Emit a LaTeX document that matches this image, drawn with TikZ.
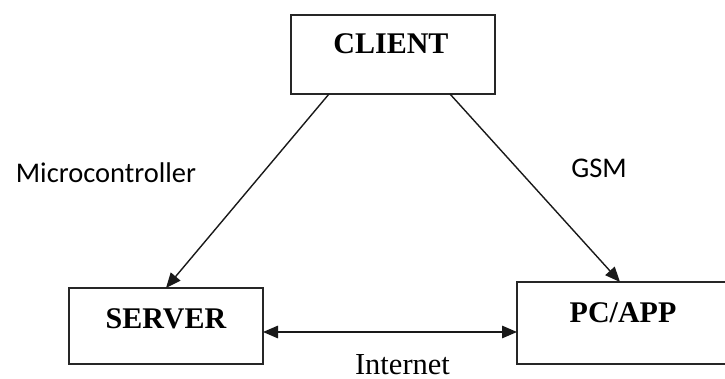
\documentclass[tikz,border=0pt]{standalone}
\usepackage{fontspec}
\setmainfont{Liberation Serif}
\newfontfamily\labelsans{Carlito}
\usetikzlibrary{arrows.meta}

\tikzset{
  box/.style={draw=black!85, line width=1.2pt, inner sep=0pt, outer sep=0pt, rectangle},
  boxtext/.style={font=\fontsize{30}{30}\selectfont\bfseries, inner sep=0pt, anchor=base},
  sidetext/.style={font=\labelsans\fontsize{28.5}{28.5}\selectfont, inner sep=0pt, anchor=base},
  nettext/.style={font=\fontsize{30.5}{30.5}\selectfont, inner sep=0pt, anchor=base},
  link/.style={draw=black!90, line width=1.4pt, -{Triangle[length=15pt,width=12.5pt]}},
  duplex/.style={draw=black!90, line width=1.4pt, {Triangle[length=15pt,width=12.5pt]}-{Triangle[length=15pt,width=12.5pt]}}
}

\begin{document}
\begin{tikzpicture}[x=1pt, y=-1pt]
  \useasboundingbox (0,0) rectangle (725,379);

  % the three blocks
  \node[box, minimum width=204pt, minimum height=79pt] (client) at (393,54.5) {};
  \node[box, minimum width=194pt, minimum height=76pt] (server) at (166,326) {};
  \node[box, minimum width=212pt, minimum height=82pt] (pcapp) at (623,323) {};

  % block titles
  \node[boxtext] (clientname) at (391,54) {CLIENT};
  \node[boxtext] (servername) at (166,328) {SERVER};
  \node[boxtext] (pcappname) at (623,322) {PC/APP};

  % points where the connectors meet the blocks
  \coordinate (cl) at ([xshift=38pt]client.south west);
  \coordinate (cr) at ([xshift=-45pt]client.south east);
  \coordinate (st) at (server.north);
  \coordinate (pt) at ([xshift=103pt]pcapp.north west);
  \coordinate (sr) at ([yshift=-6pt]server.east);
  \coordinate (pl) at (pcapp.west |- sr);

  % connectors
  \draw[link] (cl) -- (st);
  \draw[link] (cr) -- (pt);
  \draw[duplex] (sr) -- (pl);

  % connector labels
  \node[sidetext] (mcu) at (106,183) {Microcontroller};
  \node[sidetext] (gsm) at (599,178) {GSM};
  \node[nettext] (net) at (402.5,374.5) {Internet};
\end{tikzpicture}
\end{document}
